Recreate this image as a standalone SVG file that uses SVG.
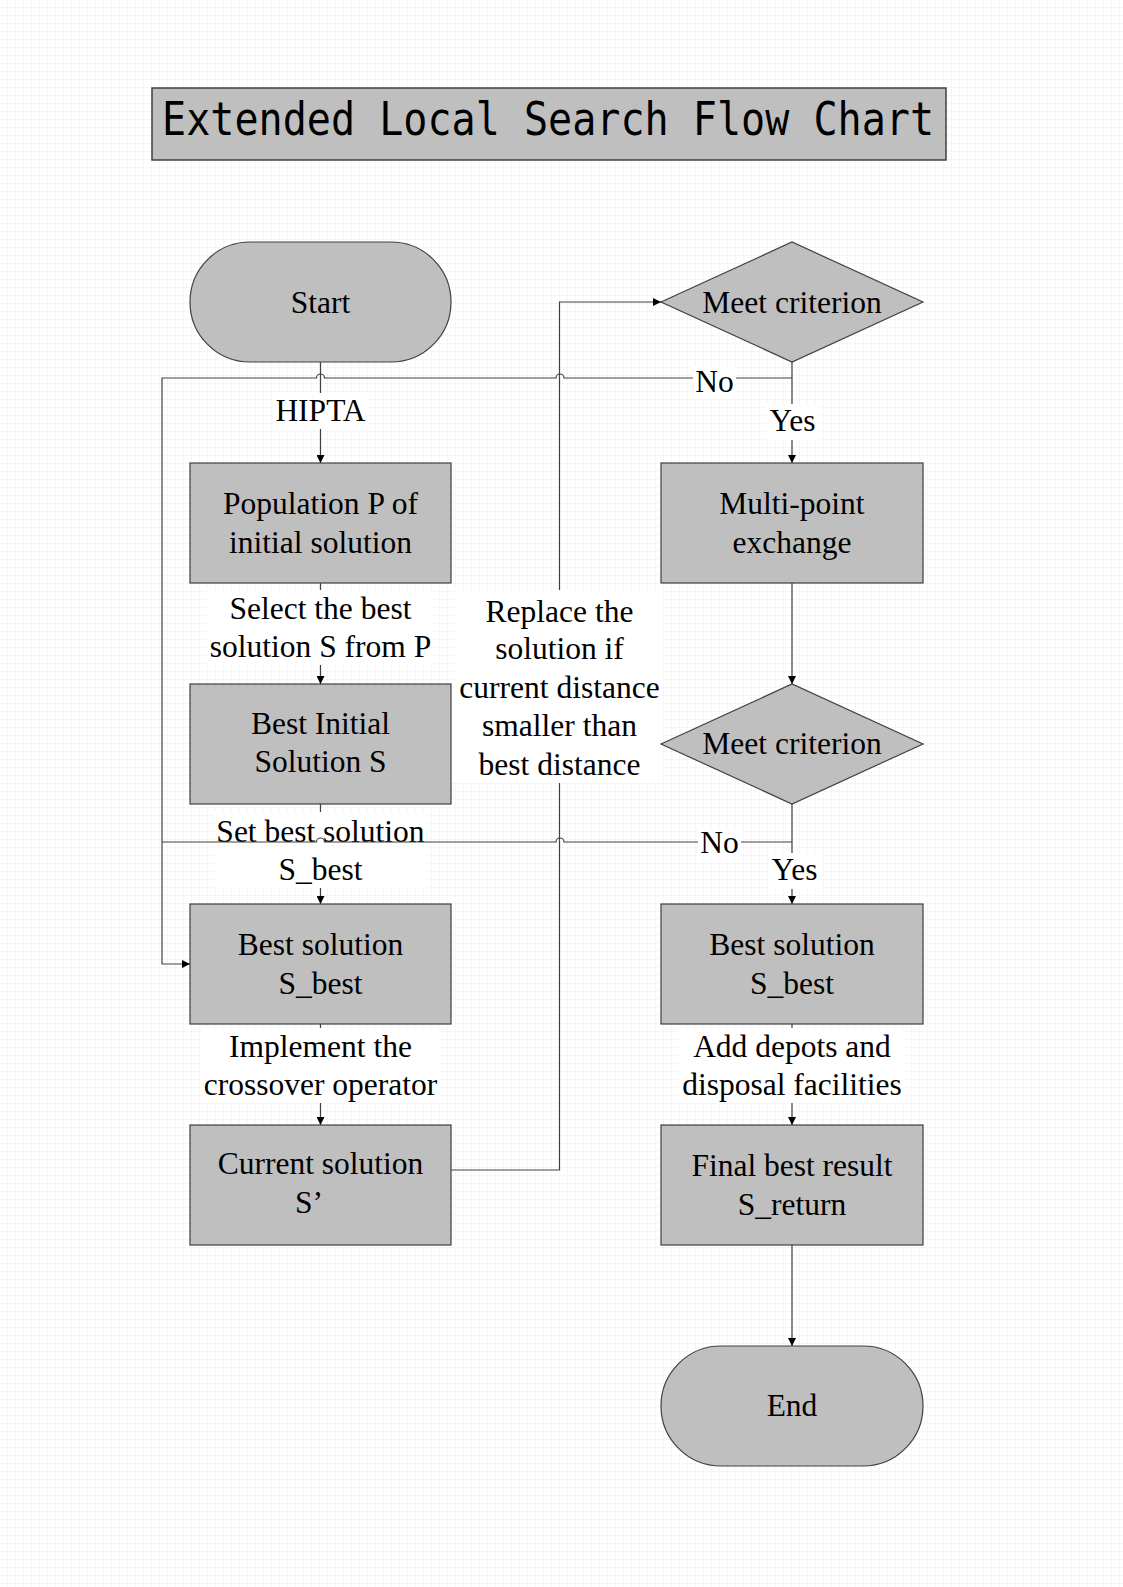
<svg xmlns="http://www.w3.org/2000/svg" width="1123" height="1587" viewBox="0 0 1123 1587">
<defs>
<pattern id="grid" width="8" height="8" patternUnits="userSpaceOnUse">
<path d="M8 0 V8 M0 8 H8" fill="none" stroke="#ececec" stroke-width="1"/>
</pattern>
<marker id="arr" viewBox="0 0 10 10" refX="10" refY="5" markerWidth="8" markerHeight="8" markerUnits="userSpaceOnUse" orient="auto">
<path d="M0 0 L10 5 L0 10 Z" fill="#000"/>
</marker>
</defs>
<style>
.node{fill:#bfbfbf;stroke:#404040;stroke-width:1.2}
.t{font-family:"Liberation Serif","Times New Roman",serif;font-size:31.5px;fill:#000;text-anchor:middle}
.c{fill:none;stroke:#404040;stroke-width:1.2}
.bg{fill:#fff}
</style>
<rect width="1123" height="1587" fill="#fff"/>
<rect width="1123" height="1587" fill="url(#grid)"/>

<g id="title">
<rect x="152" y="88" width="794" height="72" fill="#bfbfbf" stroke="#404040" stroke-width="1.5"/>
<text x="162" y="135" font-family="'DejaVu Sans Mono','Liberation Mono',monospace" font-size="46" textLength="772" lengthAdjust="spacingAndGlyphs" fill="#000">Extended Local Search Flow Chart</text>
</g>

<g id="connectors">
<path class="c" d="M320.5 362 V463" marker-end="url(#arr)"/>
<path class="c" d="M320.5 583 V684" marker-end="url(#arr)"/>
<path class="c" d="M320.5 804 V904" marker-end="url(#arr)"/>
<path class="c" d="M320.5 1024 V1125" marker-end="url(#arr)"/>
<path class="c" d="M451 1170 H559.5 V302 H661" marker-end="url(#arr)"/>
<path class="c" d="M792 362 V463" marker-end="url(#arr)"/>
<path class="c" d="M792 583 V684" marker-end="url(#arr)"/>
<path class="c" d="M792 804 V904" marker-end="url(#arr)"/>
<path class="c" d="M792 1024 V1125" marker-end="url(#arr)"/>
<path class="c" d="M792 1245 V1346" marker-end="url(#arr)"/>
</g>

<g id="labels-vertical">
<rect class="bg" x="273" y="393" width="95" height="36"/>
<text class="t" x="320.5" y="421">HIPTA</text>
<rect class="bg" x="207" y="590" width="227" height="75"/>
<text class="t" x="320.5" y="618.5">Select the best</text>
<text class="t" x="320.5" y="657">solution S from P</text>
<rect class="bg" x="455" y="590" width="207" height="193"/>
<text class="t" x="559.5" y="621.5">Replace the</text>
<text class="t" x="559.5" y="659">solution if</text>
<text class="t" x="559.5" y="697.5">current distance</text>
<text class="t" x="559.5" y="736">smaller than</text>
<text class="t" x="559.5" y="774.5">best distance</text>
<rect class="bg" x="213" y="812" width="214" height="76"/>
<text class="t" x="320.5" y="841.5">Set best solution</text>
<text class="t" x="320.5" y="880">S_best</text>
<rect class="bg" x="201" y="1028" width="239" height="75"/>
<text class="t" x="320.5" y="1056.5">Implement the</text>
<text class="t" x="320.5" y="1095">crossover operator</text>
<rect class="bg" x="679" y="1028" width="226" height="75"/>
<text class="t" x="792" y="1056.5">Add depots and</text>
<text class="t" x="792" y="1095">disposal facilities</text>
<rect class="bg" x="766" y="404" width="53" height="36"/>
<text class="t" x="792.5" y="431">Yes</text>
<rect class="bg" x="768" y="853" width="53" height="36"/>
<text class="t" x="794.5" y="880">Yes</text>
</g>

<g id="connectors-no">
<path class="c" d="M792 378 H564 A4 4 0 0 0 556 378 H324.5 A4 4 0 0 0 316.5 378 H162 V964 H190" marker-end="url(#arr)"/>
<path class="c" d="M792 842 H564 A4 4 0 0 0 556 842 H324.5 A4 4 0 0 0 316.5 842 H162"/>
<rect class="bg" x="693" y="366" width="43" height="32"/>
<text class="t" x="714.5" y="391.5">No</text>
<rect class="bg" x="698" y="828" width="43" height="31"/>
<text class="t" x="719.5" y="853">No</text>
</g>

<g id="start">
<rect class="node" x="190" y="242" width="261" height="120" rx="60" ry="60"/>
<text class="t" x="320.5" y="313">Start</text>
</g>
<g id="population">
<rect class="node" x="190" y="463" width="261" height="120"/>
<text class="t" x="320.5" y="514">Population P of</text>
<text class="t" x="320.5" y="552.5">initial solution</text>
</g>
<g id="best-initial">
<rect class="node" x="190" y="684" width="261" height="120"/>
<text class="t" x="320.5" y="734">Best Initial</text>
<text class="t" x="320.5" y="772">Solution S</text>
</g>
<g id="best-solution-left">
<rect class="node" x="190" y="904" width="261" height="120"/>
<text class="t" x="320.5" y="955">Best solution</text>
<text class="t" x="320.5" y="993.5">S_best</text>
</g>
<g id="current-solution">
<rect class="node" x="190" y="1125" width="261" height="120"/>
<text class="t" x="320.5" y="1174">Current solution</text>
<text class="t" x="309" y="1213">S’</text>
</g>
<g id="meet-criterion-1">
<polygon class="node" points="661,302 792,242 923,302 792,362"/>
<text class="t" x="792" y="313">Meet criterion</text>
</g>
<g id="multi-point">
<rect class="node" x="661" y="463" width="262" height="120"/>
<text class="t" x="792" y="514">Multi-point</text>
<text class="t" x="792" y="552.5">exchange</text>
</g>
<g id="meet-criterion-2">
<polygon class="node" points="661,744 792,684 923,744 792,804"/>
<text class="t" x="792" y="754">Meet criterion</text>
</g>
<g id="best-solution-right">
<rect class="node" x="661" y="904" width="262" height="120"/>
<text class="t" x="792" y="955">Best solution</text>
<text class="t" x="792" y="993.5">S_best</text>
</g>
<g id="final-result">
<rect class="node" x="661" y="1125" width="262" height="120"/>
<text class="t" x="792" y="1176">Final best result</text>
<text class="t" x="792" y="1214.5">S_return</text>
</g>
<g id="end">
<rect class="node" x="661" y="1346" width="262" height="120" rx="60" ry="60"/>
<text class="t" x="792" y="1416">End</text>
</g>
</svg>
